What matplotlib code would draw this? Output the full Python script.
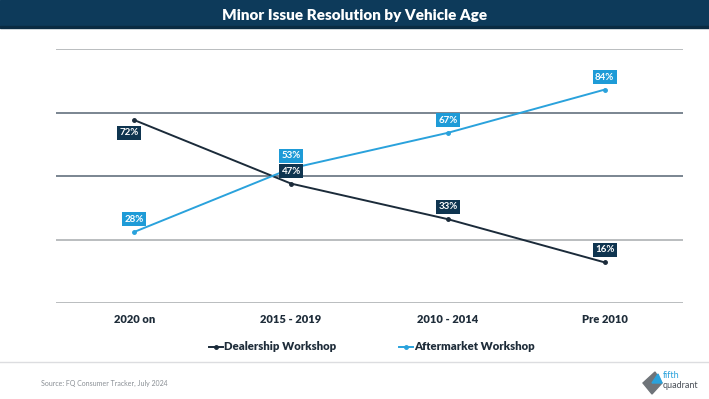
import numpy as np
import matplotlib.pyplot as plt
from matplotlib.patches import Rectangle, Polygon

plt.rcParams['font.family'] = ['Lato', 'DejaVu Sans']

categories = ['2020 on', '2015 - 2019', '2010 - 2014', 'Pre 2010']
dealership = [72, 47, 33, 16]
aftermarket = [28, 53, 67, 84]
# label position: -1 below the point, 1 above
dealer_side = [-1, 1, 1, 1]
after_side = [1, 1, 1, 1]

navy = '#1b2b3a'
navy_box = '#0f3550'
blue = '#2aa2dc'
blue_box = '#1e9bd7'

fig = plt.figure(figsize=(7.09, 3.99), dpi=100)
W, H = 709, 399

# title bar
fig.patches.append(Rectangle((0, 1 - 27 / H), 1, 27 / H, transform=fig.transFigure,
                             color='#0d3a5a', zorder=0))
fig.patches.append(Rectangle((0, 1 - 28 / H), 1, 1.5 / H, transform=fig.transFigure,
                             color='#0a2b42', zorder=0))
fig.text(0.5, 1 - 15 / H, 'Minor Issue Resolution by Vehicle Age', ha='center', va='center',
         color='white', fontsize=11, fontweight='heavy')

ax = fig.add_axes([56 / W, 1 - 303 / H, 627 / W, 254 / H])
x = np.arange(len(categories))
ax.set_xlim(-0.5, 3.5)
ax.set_ylim(0, 100)

grid_colors = {0: '#b4b7ba', 25: '#b4b7ba', 50: '#6f7c88', 75: '#6f7c88', 100: '#b4b7ba'}
for yv, c in grid_colors.items():
    ax.axhline(yv, color=c, lw=1.3, zorder=1)

ax.plot(x, dealership, color=navy, lw=1.4, marker='o', ms=2.5, zorder=3)
ax.plot(x, aftermarket, color=blue, lw=1.4, marker='o', ms=2.5, zorder=3)

for xi, v, s in zip(x, dealership, dealer_side):
    ax.annotate(f'{v}%', (xi, v), xytext=(-4 if s < 0 else 0, 9 * s), textcoords='offset points',
                ha='center', va='center', color='white', fontsize=7, fontweight='bold',
                bbox=dict(boxstyle='square,pad=0.25', fc=navy_box, ec='none'), zorder=4)
for xi, v, s in zip(x, aftermarket, after_side):
    ax.annotate(f'{v}%', (xi, v), xytext=(0, 9 * s), textcoords='offset points',
                ha='center', va='center', color='white', fontsize=7, fontweight='bold',
                bbox=dict(boxstyle='square,pad=0.25', fc=blue_box, ec='none'), zorder=4)

ax.set_xticks(x)
ax.set_xticklabels(categories, fontsize=8, fontweight='heavy', color='#1f2d3a')
ax.set_yticks([])
ax.tick_params(axis='x', length=0, pad=8)
for sp in ax.spines.values():
    sp.set_visible(False)

# legend
h1, = ax.plot([], [], color=navy, lw=1.4, marker='o', ms=2.5)
h2, = ax.plot([], [], color=blue, lw=1.4, marker='o', ms=2.5)
fig.legend([h1, h2], ['Dealership Workshop', 'Aftermarket Workshop'], loc='center',
           bbox_to_anchor=(372 / W, 1 - 347 / H), ncol=2, frameon=False, handlelength=1.2,
           handletextpad=0.1, columnspacing=5.5, prop=dict(size=8.2, weight='heavy'),
           labelcolor='#1f2d3a')

# footer
fig.add_artist(plt.Line2D([0, 1], [1 - 362 / H] * 2, color='#dcdde0', lw=1))
fig.text(41 / W, 1 - 383 / H, 'Source: FQ Consumer Tracker, July 2024', fontsize=5,
         color='#8a8f95', va='center')

# logo
fig.patches.append(Polygon([[643 / W, 1 - 383 / H], [655 / W, 1 - 372 / H],
                            [662 / W, 1 - 383 / H], [652 / W, 1 - 394 / H]],
                           closed=True, transform=fig.transFigure, color='#6f7479'))
fig.patches.append(Polygon([[652 / W, 1 - 383 / H], [658 / W, 1 - 374 / H],
                            [662 / W, 1 - 383 / H]],
                           closed=True, transform=fig.transFigure, color='#2aa2dc'))
fig.text(663 / W, 1 - 376 / H, 'fifth', fontsize=6.5, color='#2aa2dc', va='center')
fig.text(663 / W, 1 - 385 / H, 'quadrant', fontsize=6.5, color='#4a5058', va='center')

fig.savefig('out.png', dpi=100, facecolor='white')
